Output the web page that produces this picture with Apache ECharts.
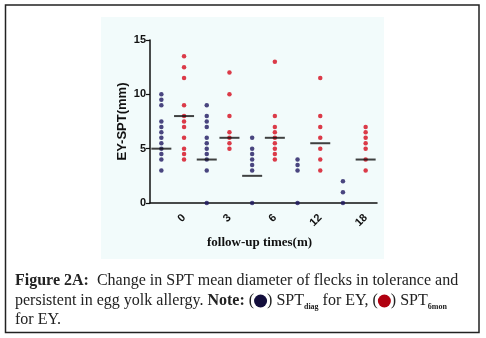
<!DOCTYPE html>
<html>
<head>
<meta charset="utf-8">
<script src="https://cdn.jsdelivr.net/npm/echarts@6/dist/echarts.min.js"></script>
<style>
	html, body { margin: 0; padding: 0; background: #fff; }
	#chart-container { width: 486px; height: 338px; }
</style>
</head>
<body>
<div id="chart-container"></div>
<script>
// x categories: blue (diag) and red (6 mon) columns alternate, label only on the red one
const timeLabels = ['', '0', '', '3', '', '6', '', '12', '', '18'];

const diagGroups = [
	[10, 9.5, 9, 7.5, 7, 6.5, 6, 5.5, 5, 4.5, 4, 3],
	[9, 8, 7.5, 7, 6, 5.5, 5, 4.5, 4, 3, 0],
	[6, 5, 4.5, 4, 3.5, 3, 0],
	[4, 3.5, 3, 0],
	[2, 1, 0],
];
const sixMonGroups = [
	[13.5, 12.5, 11.5, 9, 8, 7.5, 7, 6, 5, 4.5, 4],
	[12, 10, 8, 6.5, 6, 5.5, 5],
	[13, 8, 7, 6.5, 6, 5.5, 5, 4.5, 4],
	[11.5, 8, 7, 6, 5, 4, 3],
	[7, 6.5, 6, 5.5, 5, 4, 3],
];
const diagMeans = [5, 4, 2.5, null, null];
const sixMonMeans = [8, 6, 6, 5.5, 4];

const yTicks = [0, 5, 10, 15];

const blue = '#1e1860';
const red = '#d40a1c';
const sans = 'Liberation Sans, Arial, sans-serif';
const serif = 'Liberation Serif, Times New Roman, serif';

function points(groups, offset) {
	let out = [];
	groups.forEach((vals, i) => {
		vals.forEach(v => out.push([2 * i + offset, v]));
	});
	return out;
}

function meanPoints() {
	let out = [];
	diagMeans.forEach((v, i) => { if (v != null) out.push([2 * i, v]); });
	sixMonMeans.forEach((v, i) => { if (v != null) out.push([2 * i + 1, v]); });
	return out;
}

const chart = echarts.init(document.getElementById('chart-container'), null, {renderer: 'canvas'});

chart.setOption({
	animation: false,
	grid: {left: 150, top: 40, width: 227, height: 163},
	xAxis: {
		type: 'category',
		data: timeLabels,
		boundaryGap: true,
		name: 'follow-up times(m)',
		nameLocation: 'middle',
		nameGap: 33,
		nameTextStyle: {fontFamily: serif, fontWeight: 'bold', fontSize: 13, color: '#111', padding: [0, 8, 0, 0]},
		axisLine: {lineStyle: {color: '#111', width: 1.5}},
		axisTick: {alignWithLabel: true, length: 4, lineStyle: {color: '#111', width: 1.2}},
		axisLabel: {
			rotate: 45, margin: 13, interval: 0,
			fontFamily: sans, fontWeight: 'bold', fontSize: 11, color: '#111',
		},
		splitLine: {show: false},
	},
	yAxis: {
		type: 'value',
		min: 0, max: 15, interval: 5,
		name: 'EY-SPT(mm)',
		nameLocation: 'middle',
		nameRotate: 90,
		nameGap: 21,
		nameTextStyle: {fontFamily: sans, fontWeight: 'bold', fontSize: 13, color: '#111'},
		axisLine: {show: true, lineStyle: {color: '#111', width: 1.5}},
		axisTick: {show: true, length: 4, lineStyle: {color: '#111', width: 1.2}},
		axisLabel: {
			margin: 4, fontFamily: sans, fontWeight: 'bold', fontSize: 11, color: '#111',
			formatter: v => (yTicks.includes(v) ? String(v) : ''),
		},
		splitLine: {show: false},
	},
	series: [
		{
			name: 'SPT diag',
			type: 'scatter',
			data: points(diagGroups, 0),
			symbolSize: 4.5,
			itemStyle: {color: blue},
			z: 3,
		},
		{
			name: 'SPT 6mon',
			type: 'scatter',
			data: points(sixMonGroups, 1),
			symbolSize: 4.5,
			itemStyle: {color: red},
			z: 3,
		},
		{
			name: 'mean',
			type: 'scatter',
			data: meanPoints(),
			symbol: 'rect',
			symbolSize: [20, 2],
			itemStyle: {color: '#111'},
			z: 4,
		},
	],
	graphic: [
		{
			type: 'rect', z: -10,
			shape: {x: 101, y: 17, width: 283, height: 242},
			style: {fill: '#f2fbfb'},
		},
		{
			type: 'rect', z: 10,
			shape: {x: 5.5, y: 5, width: 473.5, height: 327.5},
			style: {fill: 'none', stroke: '#222', lineWidth: 1.5},
		},
		{
			type: 'text', left: 15, top: 273, z: 10,
			style: {
				text: '{b|Figure 2A:}  Change in SPT mean diameter of flecks in tolerance and',
				font: '16px ' + serif, fill: '#222',
				rich: {b: {fontWeight: 'bold', fontFamily: serif, fontSize: 16}},
			},
		},
		{
			type: 'text', left: 15, top: 291, z: 10,
			style: {
				text: 'persistent in egg yolk allergy. {b|Note:} ({blue| }) SPT{sub|diag} for EY, ({red| }) SPT{sub|6mon}',
				font: '16px ' + serif, fill: '#222',
				rich: {
					b: {fontWeight: 'bold', fontFamily: serif, fontSize: 16, lineHeight: 22},
					blue: {width: 13, height: 13, borderRadius: 6.5, backgroundColor: '#130e3c', fontSize: 4, lineHeight: 13},
					red: {width: 13, height: 13, borderRadius: 6.5, backgroundColor: '#b00010', fontSize: 4, lineHeight: 13},
					sub: {fontFamily: serif, fontWeight: 'bold', fontSize: 8, lineHeight: 10, padding: [12, 0, 0, 0]},
				},
			},
		},
		{
			type: 'text', left: 15, top: 312, z: 10,
			style: {text: 'for EY.', font: '16px ' + serif, fill: '#222'},
		},
	],
});
</script>
</body>
</html>
